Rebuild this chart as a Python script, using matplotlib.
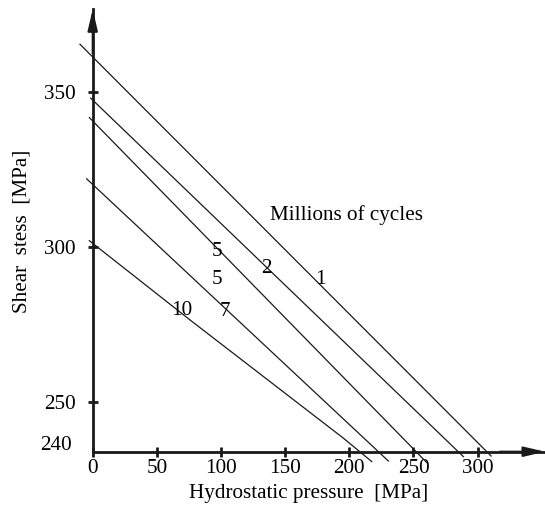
import matplotlib.pyplot as plt

plt.rcParams['font.family'] = ['Liberation Serif', 'DejaVu Serif']
plt.rcParams['font.size'] = 15.2

# constant-life lines: hydrostatic pressure [MPa] -> shear stress [MPa]
p_1 = [-9.9, 310.5]
s_1 = [365.5, 232.4]
p_2 = [-1.6, 288.9]
s_2 = [348.1, 232.2]
p_3 = [-2.6, 260.3]
s_3 = [341.8, 230.3]
p_4 = [-4.7, 230.4]
s_4 = [322.0, 230.8]
p_5 = [-2.6, 75.8, 195.3, 217.5]
s_5 = [302.0, 276.4, 238.2, 230.6]

# millions of cycles labels
cycle_labels = ['5', '2', '1', '5', '10', '7']
label_p = [96.6, 135.6, 177.2, 96.6, 69.4, 103.1]
label_s = [298.5, 293.1, 289.3, 289.3, 279.6, 279.1]

x_ticks = [0, 50, 100, 150, 200, 250, 300]
y_ticks = [250, 300, 350]
y_origin_label = '240'

W, H = 545, 507
fig = plt.figure(figsize=(W / 100, H / 100), dpi=100)
ax = fig.add_axes([92.7 / W, (H - 451.7) / H, (W - 92.7) / W, (451.7 - 9.3) / H])
ax.set_xlim(0, 352.5)
ax.set_ylim(233.8, 376.8)

for p, s in [(p_1, s_1), (p_2, s_2), (p_3, s_3), (p_4, s_4), (p_5, s_5)]:
    ax.plot(p, s, color='#1a1a1a', lw=0.9, clip_on=False)

for t, x, y in zip(cycle_labels, label_p, label_s):
    ax.text(x, y, t, ha='center', va='center')
ax.text(138.2, 310.3, 'Millions of cycles', ha='left', va='center')

ax.spines['top'].set_visible(False)
ax.spines['right'].set_visible(False)
for side in ['left', 'bottom']:
    ax.spines[side].set_linewidth(2)
    ax.spines[side].set_color('#1a1a1a')

ax.set_xticks(x_ticks)
ax.set_yticks(y_ticks)
ax.tick_params(axis='both', direction='inout', length=7, width=2, color='#1a1a1a')
ax.tick_params(axis='x', pad=2)
ax.tick_params(axis='y', pad=9)

ax.annotate(y_origin_label, xy=(0, 233.8), xycoords=('axes fraction', 'data'),
            xytext=(-15, 4.8), textcoords='offset points', ha='right', va='center')

# arrow heads on the axes
head = '-|>,head_length=0.85,head_width=0.2'
ax.annotate('', xy=(0, 1), xytext=(0, 0.9), xycoords='axes fraction',
            arrowprops=dict(arrowstyle=head, color='#1a1a1a', lw=1.5,
                            shrinkA=0, shrinkB=0))
ax.annotate('', xy=(1, 0), xytext=(0.9, 0), xycoords='axes fraction',
            arrowprops=dict(arrowstyle=head, color='#1a1a1a', lw=1.5,
                            shrinkA=0, shrinkB=0))

ax.text(0.478, -0.095, 'Hydrostatic pressure  [MPa]', transform=ax.transAxes,
        ha='center', va='center')
ax.text(-0.157, 0.499, 'Shear  stess  [MPa]', transform=ax.transAxes,
        rotation=90, ha='center', va='center')

fig.savefig('out.png', dpi=100)
